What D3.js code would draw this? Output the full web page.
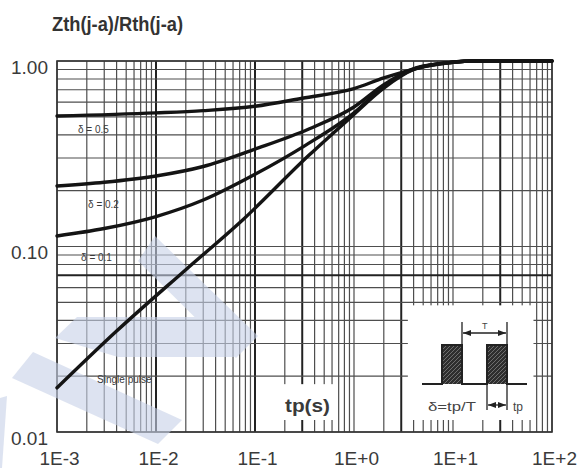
<!DOCTYPE html>
<html>
<head>
<meta charset="utf-8">
<script src="https://cdn.jsdelivr.net/npm/d3@7"></script>
<style>
  body { margin: 0; background: #fff; }
  svg { display: block; font-family: "Liberation Sans", Arial, sans-serif; }
</style>
</head>
<body>
<div id="chart"></div>
<script>
// tick values and labels
const tpTicks = [1e-3, 1e-2, 1e-1, 1, 10, 100];
const tpLabels = ['1E-3', '1E-2', '1E-1', '1E+0', '1E+1', '1E+2'];
const zTicks = [0.01, 0.1, 1];
const zLabels = ['0.01', '0.10', '1.00'];

// curves: [tp (s), Zth/Rth]
const delta05 = [[1e-3, 0.505], [0.01, 0.525], [0.03, 0.54], [0.1, 0.57], [0.3, 0.63], [1, 0.71], [2, 0.81], [5, 0.93], [10, 0.985], [16, 1], [100, 1]];
const delta02 = [[1e-3, 0.212], [3e-3, 0.222], [0.01, 0.24], [0.03, 0.27], [0.1, 0.335], [0.35, 0.43], [1, 0.565], [2, 0.745], [4.3, 0.92], [10, 0.985], [16, 1], [100, 1]];
const delta01 = [[1e-3, 0.114], [3e-3, 0.125], [0.01, 0.145], [0.03, 0.178], [0.1, 0.245], [0.32, 0.35], [1, 0.525], [2, 0.73], [4.3, 0.915], [10, 0.985], [16, 1], [100, 1]];
const singlePulse = [[1e-3, 0.0173], [4e-3, 0.035], [0.02, 0.075], [0.075, 0.139], [0.35, 0.31], [0.9, 0.49], [2, 0.715], [4, 0.9], [8, 0.97], [15, 1], [100, 1]];
const curveNames = ['δ = 0.5', 'δ = 0.2', 'δ = 0.1', 'Single pulse'];

const W = 581, H = 468;
const plot = {left: 57, top: 61, right: 552, bottom: 432};

const x = d3.scaleLog().domain([1e-3, 100]).range([plot.left, plot.right]);
const y = d3.scaleLog().domain([0.01, 1]).range([plot.bottom, plot.top]);

const svg = d3.select('#chart').append('svg').attr('width', W).attr('height', H);

/*
 * grid
 */
let xGrid = [], yGrid = [];
for (let d = -3; d < 2; d++) for (let k = 1; k < 10; k++) xGrid.push(k * Math.pow(10, d));
xGrid.push(100);
for (let d = -2; d < 0; d++) for (let k = 1; k < 10; k++) yGrid.push(k * Math.pow(10, d));
yGrid.push(1);

// a few lines print darker in the scan
const heavyX = [0.01, 0.1, 0.3, 3, 30];
const heavyY = [0.07];
const isHeavy = (arr, v) => arr.some(a => Math.abs(a - v) / a < 1e-6);

let grid = svg.append('g').attr('class', 'grid');
grid.selectAll('.vx').data(xGrid).enter().append('line')
  .attr('x1', d => x(d)).attr('x2', d => x(d))
  .attr('y1', plot.top).attr('y2', plot.bottom)
  .attr('stroke', d => isHeavy(heavyX, d) ? '#222' : '#4e4e4e')
  .attr('stroke-width', d => isHeavy(heavyX, d) ? 2 : 1.2);
grid.selectAll('.hy').data(yGrid).enter().append('line')
  .attr('y1', d => y(d)).attr('y2', d => y(d))
  .attr('x1', plot.left).attr('x2', plot.right)
  .attr('stroke', d => isHeavy(heavyY, d) ? '#222' : '#4e4e4e')
  .attr('stroke-width', d => isHeavy(heavyY, d) ? 2 : 1.2);

// blank boxes (axis title box and the inset), leaving short stubs at the bottom
const stub = 12;
svg.append('rect').attr('fill', '#fff')
  .attr('x', x(0.1) + 1.5).attr('y', y(0.02) + 8)
  .attr('width', x(0.65) - x(0.1) - 1.5).attr('height', plot.bottom - stub - y(0.02) - 8);
svg.append('rect').attr('fill', '#fff')
  .attr('x', x(3.5)).attr('y', y(0.05) + 3)
  .attr('width', x(65) - x(3.5)).attr('height', plot.bottom - stub - y(0.05) - 3);

// frame
svg.append('rect')
  .attr('x', plot.left).attr('y', plot.top)
  .attr('width', plot.right - plot.left).attr('height', plot.bottom - plot.top)
  .attr('fill', 'none').attr('stroke', '#333').attr('stroke-width', 1.6);

// watermark
const wm = svg.append('g').attr('fill', '#c8d2e8').attr('opacity', 0.6);
[
  [[155, 236], [258, 336], [236, 358], [138, 261]],
  [[55, 338], [77, 317], [238, 317], [252, 337], [234, 357], [118, 357]],
  [[33, 352], [182, 420], [158, 444], [12, 378]],
  [[0, 398], [7, 396], [2, 468], [0, 468]]
].forEach(p => wm.append('polygon').attr('points', p.map(q => q.join(',')).join(' ')));

/*
 * curves
 */
const line = d3.line().x(d => x(d[0])).y(d => y(d[1])).curve(d3.curveMonotoneX);
svg.append('g').selectAll('path')
  .data([delta05, delta02, delta01, singlePulse])
  .enter().append('path')
  .attr('d', line)
  .attr('fill', 'none').attr('stroke', '#141414').attr('stroke-width', 3.4)
  .attr('stroke-linecap', 'round');

// curve labels, anchored in data coords
const labelAt = [[1.63e-3, 0.41], [2.06e-3, 0.161], [1.75e-3, 0.0835], [2.54e-3, 0.0184]];
svg.append('g').selectAll('text')
  .data(curveNames).enter().append('text')
  .attr('x', (d, i) => x(labelAt[i][0])).attr('y', (d, i) => y(labelAt[i][1]))
  .attr('font-size', 10).attr('fill', '#3a3a3a')
  .text(d => d);

/*
 * axes
 */
const xAxis = d3.axisBottom(x).tickValues(tpTicks).tickFormat((d, i) => tpLabels[i]).tickSize(0).tickPadding(20);
const yAxis = d3.axisLeft(y).tickValues(zTicks).tickFormat((d, i) => zLabels[i]).tickSize(0).tickPadding(9);

const gx = svg.append('g').attr('transform', `translate(0,${plot.bottom})`).call(xAxis);
const gy = svg.append('g').attr('transform', `translate(${plot.left},0)`).call(yAxis);
[gx, gy].forEach(g => {
  g.select('.domain').remove();
  g.selectAll('text').attr('font-size', 19).attr('fill', '#3a3a3a').attr('font-family', '"Liberation Sans", Arial, sans-serif');
});
gx.selectAll('text').attr('dx', 2);
gy.selectAll('text').attr('dy', 12);

svg.append('text')
  .attr('x', 52).attr('y', 31)
  .attr('font-size', 20).attr('font-weight', 'bold').attr('fill', '#333')
  .attr('textLength', 131).attr('lengthAdjust', 'spacingAndGlyphs')
  .text('Zth(j-a)/Rth(j-a)');

svg.append('text')
  .attr('x', 285).attr('y', 412)
  .attr('font-size', 19).attr('font-weight', 'bold').attr('fill', '#3a3a3a')
  .attr('textLength', 45).attr('lengthAdjust', 'spacingAndGlyphs')
  .text('tp(s)');

/*
 * inset: pulse train
 */
const defs = svg.append('defs');
const pat = defs.append('pattern').attr('id', 'hatch').attr('patternUnits', 'userSpaceOnUse')
  .attr('width', 4).attr('height', 4);
pat.append('rect').attr('width', 4).attr('height', 4).attr('fill', '#2e2e2e');
pat.append('path').attr('d', 'M0,4 L4,0 M-1,1 L1,-1 M3,5 L5,3').attr('stroke', '#8a8a8a').attr('stroke-width', 0.7);

defs.append('marker').attr('id', 'arr').attr('viewBox', '0 0 8 6')
  .attr('refX', 8).attr('refY', 3).attr('markerWidth', 8).attr('markerHeight', 6)
  .attr('markerUnits', 'userSpaceOnUse').attr('orient', 'auto-start-reverse')
  .append('path').attr('d', 'M0,0 L8,3 L0,6 z').attr('fill', '#222');

const ins = svg.append('g').attr('stroke', '#222').attr('fill', 'none');
ins.append('rect').attr('x', 442).attr('y', 345).attr('width', 20).attr('height', 39).attr('fill', 'url(#hatch)').attr('stroke', 'none');
ins.append('rect').attr('x', 487).attr('y', 345).attr('width', 20).attr('height', 39).attr('fill', 'url(#hatch)').attr('stroke', 'none');
ins.append('path').attr('stroke-width', 2)
  .attr('d', 'M422,384 H442 V345 H462 V384 H487 V345 H507 V384 H527');
ins.append('path').attr('stroke-width', 1.3)
  .attr('d', 'M462,322 V345 M507,322 V410 M487,384 V410');
ins.append('line').attr('x1', 463).attr('x2', 506).attr('y1', 333).attr('y2', 333)
  .attr('stroke-width', 1.3).attr('marker-start', 'url(#arr)').attr('marker-end', 'url(#arr)');
ins.append('line').attr('x1', 488).attr('x2', 506).attr('y1', 405).attr('y2', 405)
  .attr('stroke-width', 1.3).attr('marker-start', 'url(#arr)').attr('marker-end', 'url(#arr)');

const insText = svg.append('g').attr('fill', '#444');
insText.append('text').attr('x', 482).attr('y', 329).attr('font-size', 9).text('T');
insText.append('text').attr('x', 428).attr('y', 411).attr('font-size', 12)
  .attr('textLength', 48).attr('lengthAdjust', 'spacingAndGlyphs').text('δ=tp/T');
insText.append('text').attr('x', 513).attr('y', 411).attr('font-size', 12).text('tp');
</script>
</body>
</html>
